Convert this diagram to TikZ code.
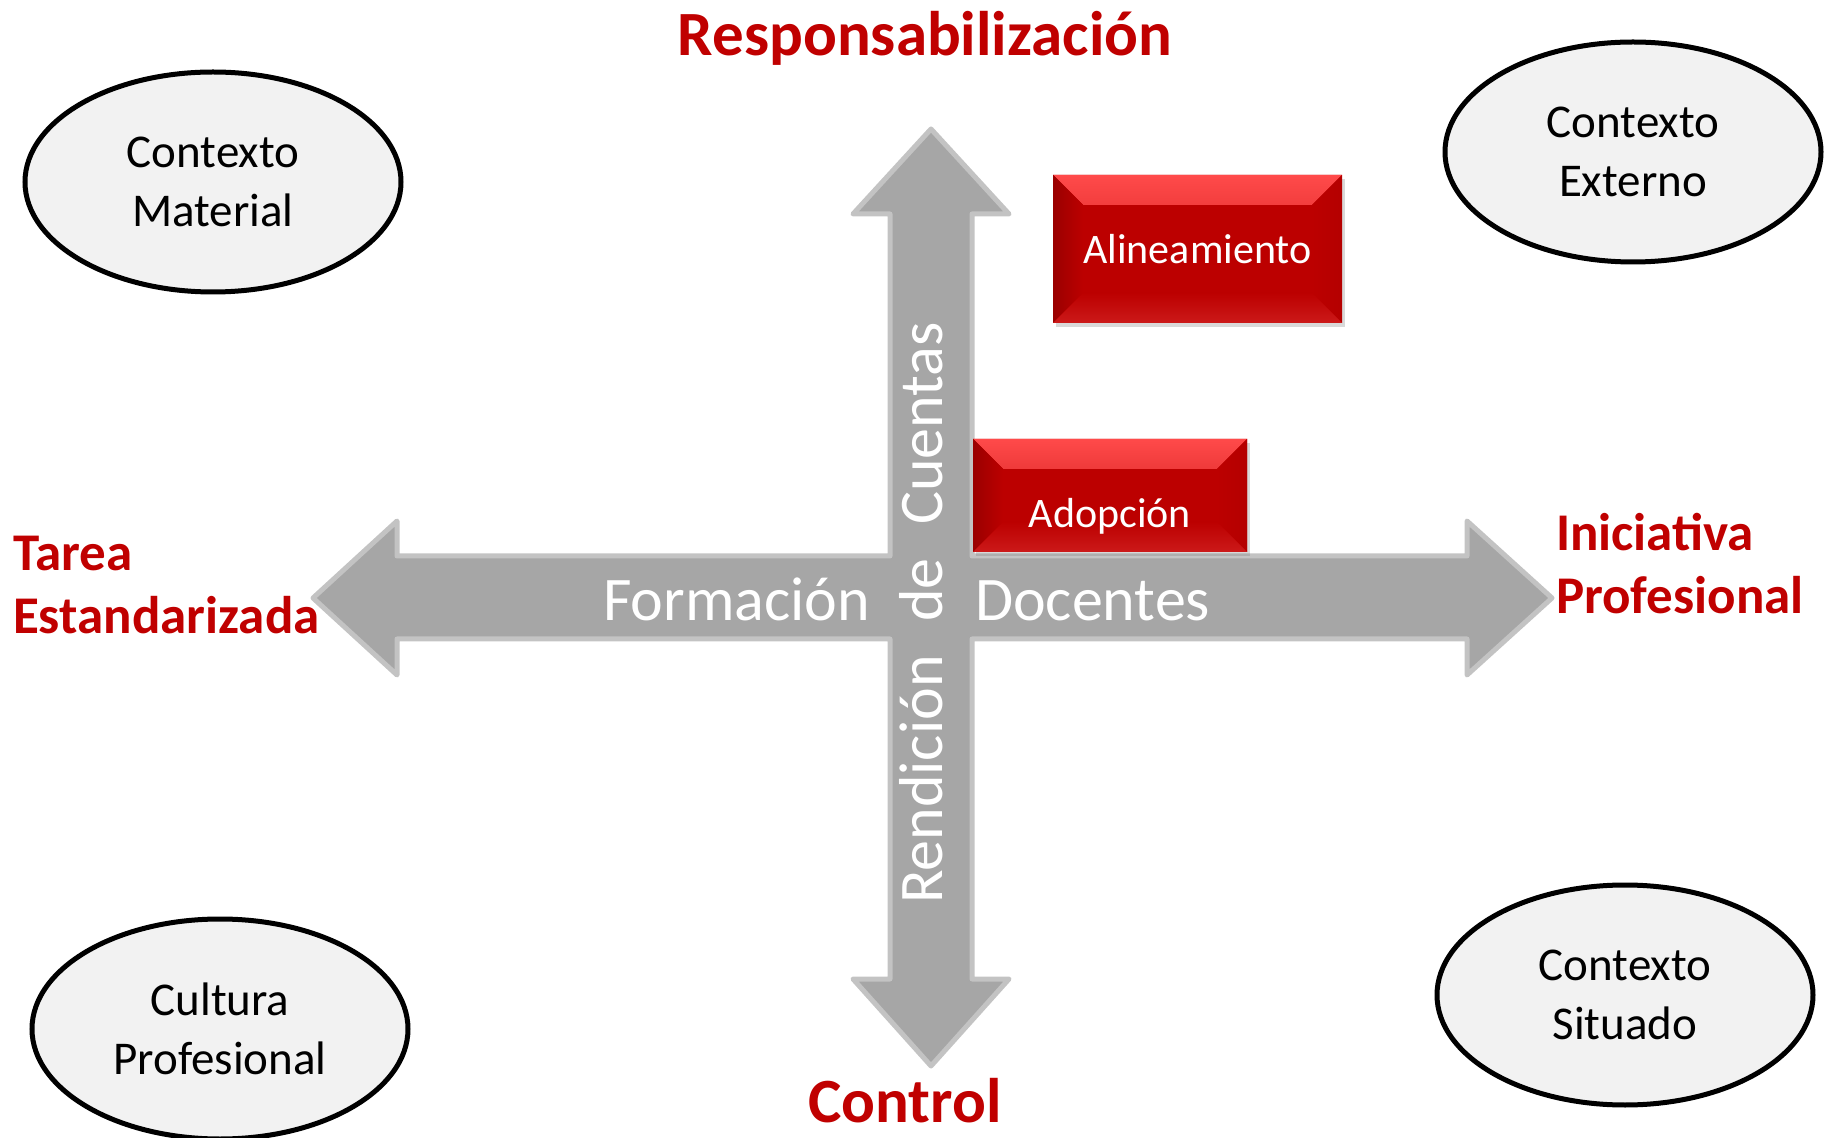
\documentclass[tikz,border=0pt]{standalone}
\usepackage{fontspec}
\setmainfont{Carlito}
\usetikzlibrary{positioning,shapes.geometric,shadows}

\definecolor{titlered}{HTML}{C00000}
\definecolor{boxred}{HTML}{BC0000}
\definecolor{boxlight}{HTML}{FF4A4A}
\definecolor{arrowfill}{HTML}{A6A6A6}
\definecolor{arrowline}{HTML}{C3C3C3}
\definecolor{ellfill}{HTML}{F2F2F2}

\tikzset{
  pole/.style={text=titlered, font=\fontsize{31.5}{37}\selectfont\bfseries},
  side pole/.style={text=titlered, align=left, font=\fontsize{26.5}{31.5}\selectfont\bfseries},
  axis text/.style={text=white, font=\fontsize{31}{37}\selectfont},
  box text/.style={text=white, font=\fontsize{21}{25}\selectfont},
  contexto/.style={ellipse, draw=black, line width=2.5pt, fill=ellfill, inner sep=0pt,
    minimum width=188pt, minimum height=110pt, align=center,
    font=\fontsize{23.5}{29.5}\selectfont},
  redbox/.style={rectangle, fill=boxred, inner sep=0pt,
    drop shadow={opacity=0.3, shadow xshift=1.5pt, shadow yshift=-2pt},
    path picture={
      \fill [top color=boxlight, bottom color=boxred!95!white]
        (path picture bounding box.north west) -- (path picture bounding box.north east)
        -- ([shift={(-15pt,-15pt)}]path picture bounding box.north east)
        -- ([shift={(15pt,-15pt)}]path picture bounding box.north west) -- cycle;
      \fill [left color=boxred!82!black, right color=boxred]
        (path picture bounding box.north west) -- ([shift={(15pt,-15pt)}]path picture bounding box.north west)
        -- ([shift={(15pt,15pt)}]path picture bounding box.south west)
        -- (path picture bounding box.south west) -- cycle;
      \fill [left color=boxred, right color=boxred!96!black]
        (path picture bounding box.north east) -- ([shift={(-15pt,-15pt)}]path picture bounding box.north east)
        -- ([shift={(-15pt,15pt)}]path picture bounding box.south east)
        -- (path picture bounding box.south east) -- cycle;
      \fill [top color=boxred, bottom color=boxred!85!red!90!white]
        (path picture bounding box.south west) -- ([shift={(15pt,15pt)}]path picture bounding box.south west)
        -- ([shift={(-15pt,15pt)}]path picture bounding box.south east)
        -- (path picture bounding box.south east) -- cycle;
    }},
}

\begin{document}
\begin{tikzpicture}[x=0.5pt, y=-0.5pt]

\useasboundingbox (0,0) rectangle (1832,1138);

\draw [fill=arrowfill, draw=arrowline, line width=2.5pt, line join=round]
  (931,129) -- (1009,214) -- (972,214) -- (972,556) -- (1467,556) -- (1467,521)
  -- (1552,598) -- (1467,675) -- (1467,639) -- (972,639) -- (972,979) -- (1009,979)
  -- (931,1066) -- (853,979) -- (890,979) -- (890,639) -- (397,639) -- (397,675)
  -- (313,598) -- (397,521) -- (397,556) -- (890,556) -- (890,214) -- (853,214) -- cycle;

\node [axis text, rotate=90] (rendicion) at (921,613)
  {Rendición\hspace{16.8pt}de\hspace{16.8pt}Cuentas};
\node [axis text, anchor=base east] (formacion) at (877,621) {Formación};
\node [axis text, anchor=base west] (docentes) at (968,621) {Docentes};

\node [redbox, minimum width=144.5pt, minimum height=74pt, box text] (alineamiento)
  at (1197.5,249) {Alineamiento};
\node [redbox, minimum width=137pt, minimum height=56.5pt,
  label={[box text, yshift=-10.5pt]center:Adopción}] (adopcion) at (1110,495.5) {};

\foreach \n/\px/\py/\t in {material/213/182/{Contexto\\Material},
    externo/1633/152/{Contexto\\Externo},
    cultura/220/1029/{Cultura\\Profesional},
    situado/1625/995/{Contexto\\Situado}}
  \node [contexto] (ctx-\n) at (\px,\py) {\t};

\node [pole, anchor=base] (responsabilizacion) at (925,56) {Responsabilización};
\node [pole, anchor=base] (control) at (905,1122) {Control};
\node [side pole, anchor=base west] (tarea) at (6,634) {Tarea\\Estandarizada};
\node [side pole, anchor=base west] (iniciativa) at (1549,614) {Iniciativa\\Profesional};

\end{tikzpicture}
\end{document}
